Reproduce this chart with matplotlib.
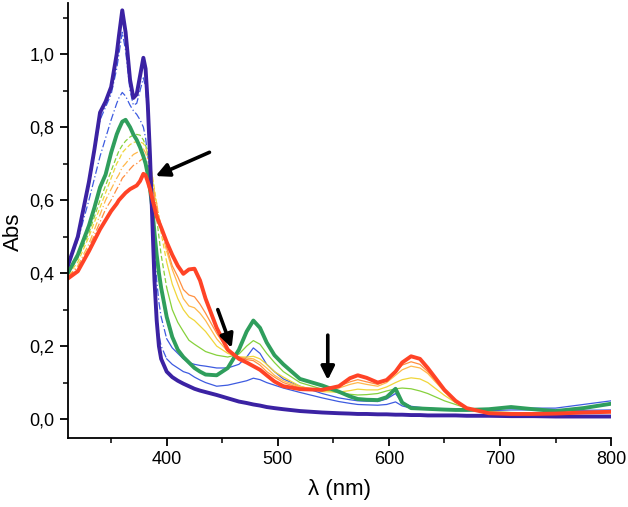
import numpy as np
import matplotlib
matplotlib.use("Agg")
import matplotlib.pyplot as plt
from matplotlib.ticker import MultipleLocator, FuncFormatter

plt.rcParams['font.family'] = ['Liberation Sans', 'DejaVu Sans']

# wavelength grid (nm)
wl = [311, 320, 330, 335, 340, 345, 350, 355, 357, 360, 363, 367, 370, 373, 376, 379, 381, 383, 385, 387,
      389, 391, 393, 395, 400, 405, 410, 415, 420, 425, 430, 435, 445, 455, 465, 472, 478, 484, 490, 497,
      505, 520, 540, 555, 565, 572, 580, 590, 598, 606, 612, 620, 628, 635, 650, 660, 670, 690, 710, 730,
      750, 775, 800]

purple = [0.42, 0.50, 0.65, 0.74, 0.84, 0.87, 0.91, 1.00, 1.05, 1.12, 1.06, 0.93, 0.88, 0.89, 0.94, 0.99, 0.96, 0.86, 0.72, 0.55,
          0.38, 0.27, 0.20, 0.165, 0.13, 0.115, 0.105, 0.097, 0.09, 0.083, 0.078, 0.074, 0.066, 0.057, 0.048, 0.044, 0.040, 0.037, 0.033, 0.030,
          0.027, 0.022, 0.018, 0.016, 0.015, 0.014, 0.014, 0.013, 0.013, 0.012, 0.012, 0.011, 0.011, 0.010, 0.010, 0.010, 0.009, 0.009, 0.008, 0.008,
          0.007, 0.007, 0.007]

blue1 = [0.42, 0.50, 0.64, 0.73, 0.82, 0.855, 0.89, 0.96, 1.00, 1.06, 1.01, 0.90, 0.86, 0.865, 0.90, 0.935, 0.91, 0.83, 0.70, 0.54,
         0.39, 0.29, 0.23, 0.20, 0.165, 0.15, 0.14, 0.13, 0.125, 0.115, 0.107, 0.10, 0.09, 0.093, 0.10, 0.105, 0.112, 0.108, 0.10, 0.093,
         0.085, 0.073, 0.058, 0.048, 0.043, 0.040, 0.039, 0.038, 0.040, 0.047, 0.036, 0.030, 0.028, 0.027, 0.025, 0.024, 0.023, 0.023, 0.025, 0.025,
         0.024, 0.024, 0.025]

blue2 = [0.42, 0.49, 0.60, 0.66, 0.72, 0.77, 0.82, 0.865, 0.88, 0.895, 0.885, 0.86, 0.845, 0.835, 0.82, 0.80, 0.77, 0.72, 0.64, 0.55,
         0.46, 0.38, 0.32, 0.28, 0.22, 0.195, 0.18, 0.165, 0.155, 0.15, 0.147, 0.145, 0.14, 0.14, 0.15, 0.17, 0.195, 0.18, 0.15, 0.13,
         0.11, 0.09, 0.07, 0.058, 0.053, 0.050, 0.049, 0.048, 0.055, 0.070, 0.045, 0.035, 0.032, 0.030, 0.027, 0.026, 0.025, 0.027, 0.030, 0.030,
         0.030, 0.040, 0.050]

green = [0.40, 0.45, 0.53, 0.58, 0.635, 0.67, 0.73, 0.78, 0.795, 0.815, 0.82, 0.80, 0.78, 0.765, 0.745, 0.72, 0.70, 0.67, 0.63, 0.58,
         0.51, 0.45, 0.40, 0.36, 0.28, 0.225, 0.19, 0.17, 0.155, 0.14, 0.13, 0.122, 0.12, 0.14, 0.19, 0.24, 0.27, 0.25, 0.21, 0.175,
         0.15, 0.11, 0.092, 0.075, 0.062, 0.055, 0.053, 0.052, 0.060, 0.083, 0.045, 0.030, 0.029, 0.028, 0.026, 0.025, 0.025, 0.027, 0.033, 0.027,
         0.022, 0.030, 0.042]

lgreen = [0.40, 0.44, 0.51, 0.555, 0.60, 0.64, 0.68, 0.72, 0.735, 0.75, 0.762, 0.773, 0.778, 0.78, 0.778, 0.765, 0.75, 0.73, 0.70, 0.66,
          0.61, 0.55, 0.50, 0.45, 0.36, 0.30, 0.265, 0.24, 0.216, 0.205, 0.195, 0.185, 0.175, 0.17, 0.178, 0.20, 0.215, 0.205, 0.18, 0.155,
          0.13, 0.10, 0.082, 0.072, 0.068, 0.066, 0.067, 0.070, 0.077, 0.083, 0.085, 0.083, 0.077, 0.070, 0.050, 0.040, 0.030, 0.020, 0.018, 0.017,
          0.017, 0.018, 0.020]

yellow = [0.395, 0.43, 0.50, 0.54, 0.58, 0.62, 0.66, 0.70, 0.71, 0.73, 0.74, 0.752, 0.758, 0.76, 0.76, 0.755, 0.745, 0.725, 0.70, 0.67,
          0.63, 0.59, 0.55, 0.51, 0.43, 0.37, 0.33, 0.30, 0.28, 0.27, 0.255, 0.24, 0.20, 0.18, 0.17, 0.17, 0.172, 0.165, 0.15, 0.13,
          0.115, 0.09, 0.075, 0.074, 0.078, 0.082, 0.080, 0.080, 0.088, 0.10, 0.108, 0.113, 0.11, 0.10, 0.065, 0.045, 0.030, 0.018, 0.016, 0.015,
          0.015, 0.016, 0.018]

lorange = [0.39, 0.42, 0.48, 0.52, 0.56, 0.60, 0.63, 0.66, 0.67, 0.69, 0.70, 0.715, 0.725, 0.73, 0.735, 0.74, 0.73, 0.71, 0.69, 0.66,
           0.62, 0.59, 0.555, 0.52, 0.46, 0.41, 0.37, 0.33, 0.31, 0.305, 0.29, 0.27, 0.22, 0.185, 0.17, 0.167, 0.165, 0.155, 0.14, 0.12,
           0.105, 0.088, 0.080, 0.085, 0.095, 0.10, 0.095, 0.09, 0.10, 0.12, 0.135, 0.145, 0.14, 0.125, 0.075, 0.050, 0.030, 0.017, 0.016, 0.015,
           0.015, 0.016, 0.018]

orange = [0.39, 0.415, 0.47, 0.505, 0.54, 0.575, 0.60, 0.63, 0.64, 0.66, 0.67, 0.685, 0.695, 0.70, 0.708, 0.715, 0.705, 0.69, 0.67, 0.645,
          0.61, 0.58, 0.555, 0.53, 0.47, 0.42, 0.39, 0.355, 0.34, 0.335, 0.315, 0.29, 0.235, 0.19, 0.17, 0.163, 0.16, 0.148, 0.13, 0.115,
          0.10, 0.085, 0.080, 0.09, 0.102, 0.108, 0.102, 0.095, 0.105, 0.13, 0.148, 0.157, 0.15, 0.13, 0.078, 0.050, 0.030, 0.016, 0.015, 0.015,
          0.015, 0.017, 0.019]

red = [0.385, 0.405, 0.46, 0.49, 0.52, 0.545, 0.57, 0.59, 0.60, 0.61, 0.62, 0.63, 0.635, 0.64, 0.652, 0.672, 0.668, 0.65, 0.63, 0.605,
       0.58, 0.555, 0.54, 0.525, 0.485, 0.45, 0.42, 0.398, 0.41, 0.412, 0.38, 0.33, 0.25, 0.19, 0.165, 0.155, 0.145, 0.135, 0.12, 0.103,
       0.09, 0.082, 0.080, 0.09, 0.112, 0.12, 0.113, 0.10, 0.107, 0.13, 0.155, 0.172, 0.165, 0.14, 0.08, 0.050, 0.030, 0.016, 0.014, 0.014,
       0.015, 0.018, 0.020]

thin_series = [
    (blue1, '#3d5be0', (0, (6, 2, 1, 2))),
    (blue2, '#3d5be0', (0, (6, 2, 1, 2))),
    (lgreen, '#86d13c', (0, (4, 2))),
    (yellow, '#f0d63a', (0, (4, 2))),
    (lorange, '#ffb84a', (0, (6, 2, 1, 2))),
    (orange, '#ff8f40', (0, (6, 2, 1, 2))),
]
thick_series = [
    (green, '#2f9e5c', 2.8),
    (purple, '#3b22a3', 2.8),
    (red, '#ff4326', 2.8),
]

fig = plt.figure(figsize=(6.28, 5.07), dpi=100)
ax = fig.add_axes([0.108, 0.136, 0.865, 0.858])

wl_arr = np.array(wl)
uv = wl_arr <= 400
vis = wl_arr >= 400
for ys, c, ls in thin_series:
    ys = np.array(ys)
    ax.plot(wl_arr[uv], ys[uv], color=c, lw=0.9, ls=ls)
    ax.plot(wl_arr[vis], ys[vis], color=c, lw=0.9, ls='-')
for ys, c, lw in thick_series:
    ax.plot(wl, ys, color=c, lw=lw, solid_joinstyle='round', solid_capstyle='round')

ax.set_xlim(311, 800)
ax.set_ylim(-0.052, 1.14)

ax.xaxis.set_major_locator(MultipleLocator(100))
ax.xaxis.set_minor_locator(MultipleLocator(50))
ax.yaxis.set_major_locator(MultipleLocator(0.2))
ax.yaxis.set_minor_locator(MultipleLocator(0.1))
ax.yaxis.set_major_formatter(FuncFormatter(lambda v, p: f"{v:.1f}".replace('.', ',').replace('-0,0', '0,0')))

for s in ['top', 'right']:
    ax.spines[s].set_visible(False)
for s in ['left', 'bottom']:
    ax.spines[s].set_linewidth(1.3)
ax.tick_params(which='major', direction='out', length=6, width=1.3, labelsize=13)
ax.tick_params(which='minor', direction='out', length=3.5, width=1.1)

ax.set_xlabel('λ (nm)', fontsize=16)
ax.set_ylabel('Abs', fontsize=16)
ax.xaxis.set_label_coords(0.5, -0.095)
ax.yaxis.set_label_coords(-0.081, 0.475)

arrow_kw = dict(arrowstyle='-|>', lw=2.6, color='black', mutation_scale=20,
                shrinkA=0, shrinkB=0)
ax.annotate('', xy=(390, 0.666), xytext=(438.5, 0.731), arrowprops=arrow_kw)
ax.annotate('', xy=(458.5, 0.195), xytext=(446, 0.30), arrowprops=arrow_kw)
ax.annotate('', xy=(545, 0.107), xytext=(545, 0.23), arrowprops=arrow_kw)

fig.savefig('out.png', dpi=100)
